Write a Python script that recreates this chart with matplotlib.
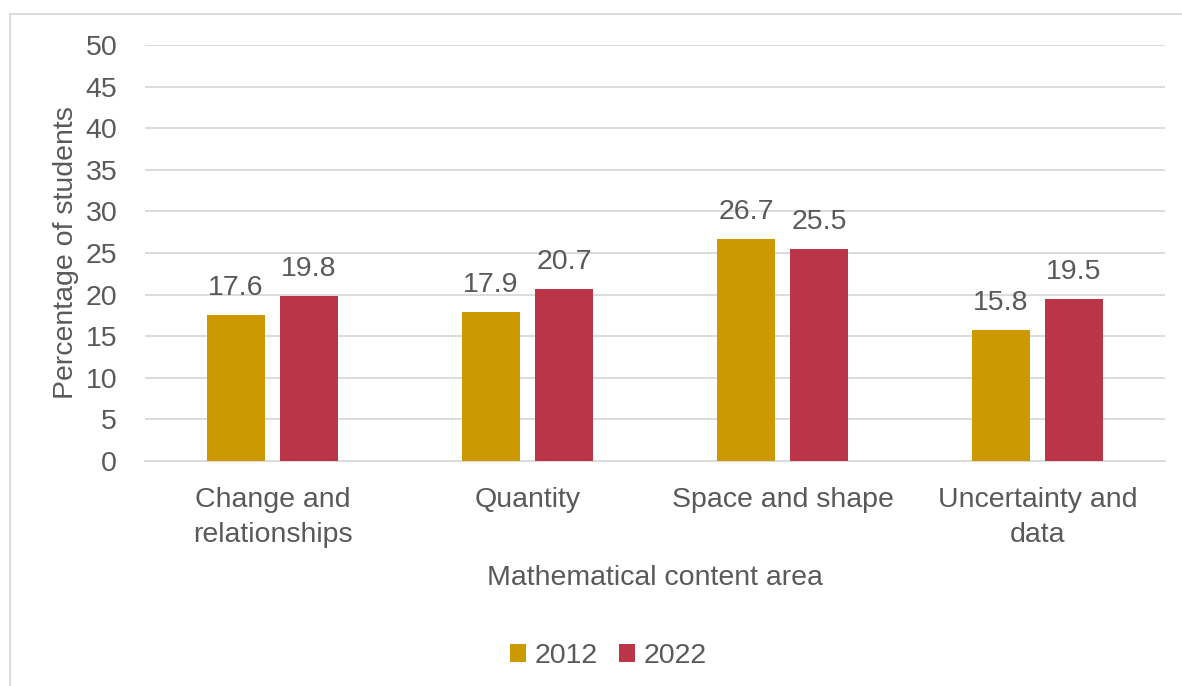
import matplotlib
matplotlib.use("Agg")
import matplotlib.pyplot as plt
from matplotlib.patches import Rectangle
import numpy as np

# Data
categories = ["Change and\nrelationships", "Quantity", "Space and shape", "Uncertainty and\ndata"]
series_names = ["2012", "2022"]
values_2012 = [17.6, 17.9, 26.7, 15.8]
values_2022 = [19.8, 20.7, 25.5, 19.5]
y_ticks = [0, 5, 10, 15, 20, 25, 30, 35, 40, 45, 50]

colors = ["#CC9900", "#B93547"]
text_color = "#595959"
grid_color = "#D9D9D9"
fs = 20.5

plt.rcParams["font.family"] = ["Liberation Sans", "DejaVu Sans"]

W, H = 1182, 686
fig = plt.figure(figsize=(W / 100, H / 100), dpi=100)

# chart frame
fig.patches.append(Rectangle((10 / W, 0 - 0.05), 1.1, 1 - 14 / H + 0.05,
                             transform=fig.transFigure, fill=False,
                             edgecolor=grid_color, linewidth=1.3, zorder=0))

left, right, top, bottom = 145, 1165, 45, 461
ax = fig.add_axes([left / W, 1 - bottom / H, (right - left) / W, (bottom - top) / H])

x = np.arange(len(categories))
bw = 0.224
off = 0.143
bars = []
for vals, dx, c, name in [(values_2012, -off, colors[0], series_names[0]),
                          (values_2022, off, colors[1], series_names[1])]:
    b = ax.bar(x + dx, vals, width=bw, color=c, label=name, zorder=3)
    bars.append(b)
    for xi, v in zip(x + dx, vals):
        ax.annotate(f"{v:.1f}", (xi, v), xytext=(0, 10), textcoords="offset points",
                    ha="center", va="bottom", fontsize=fs, color=text_color)

ax.set_xlim(-0.5, len(categories) - 0.5)
ax.set_ylim(0, 50)
ax.set_yticks(y_ticks)
ax.set_yticklabels([str(t) for t in y_ticks])
ax.set_xticks(x)
ax.set_xticklabels(categories, linespacing=1.45)
ax.tick_params(axis="y", length=0, pad=20, labelsize=fs, labelcolor=text_color)
ax.tick_params(axis="x", length=0, pad=19, labelsize=fs, labelcolor=text_color)
ax.yaxis.grid(True, color=grid_color, linewidth=1.3, zorder=0)
ax.set_axisbelow(True)
for s in ["top", "right", "left"]:
    ax.spines[s].set_visible(False)
ax.spines["bottom"].set_color(grid_color)
ax.spines["bottom"].set_linewidth(1.3)

ax.set_ylabel("Percentage of students", fontsize=fs, color=text_color, labelpad=5)
ax.set_xlabel("Mathematical content area", fontsize=fs, color=text_color, labelpad=12)

fig.legend(handles=bars, labels=series_names, loc="center",
           bbox_to_anchor=(608 / W, 1 - 656 / H), ncol=2, frameon=False,
           fontsize=fs, labelcolor=text_color, handlelength=0.56, handleheight=0.56,
           handletextpad=0.3, columnspacing=0.75)

fig.savefig("out.png", dpi=100)
